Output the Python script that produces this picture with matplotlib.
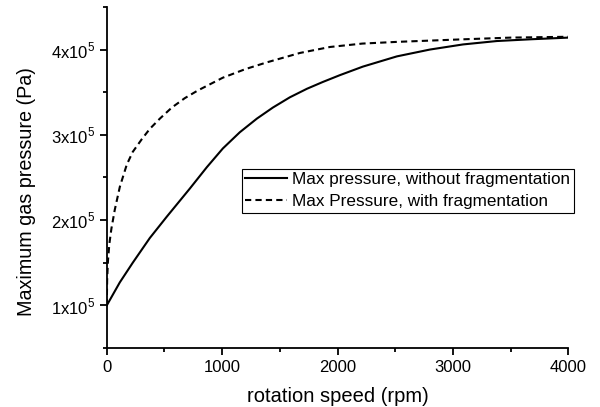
import numpy as np
import matplotlib
matplotlib.use('Agg')
import matplotlib.pyplot as plt
from matplotlib.ticker import MultipleLocator, FuncFormatter

plt.rcParams['font.family'] = ['Liberation Sans', 'DejaVu Sans']
plt.rcParams['mathtext.fontset'] = 'custom'
plt.rcParams['mathtext.rm'] = 'Liberation Sans'

# (rpm, 1e5 Pa)
rpm_nofrag = [0, 113, 225, 373, 520, 720, 867, 1006, 1153, 1301, 1440, 1587, 1735, 1873,
              2021, 2220, 2515, 2801, 3088, 3382, 3669, 4000]
p_nofrag = [1.0, 1.27, 1.50, 1.79, 2.04, 2.37, 2.62, 2.84, 3.03, 3.19, 3.32, 3.44, 3.54, 3.62,
            3.70, 3.80, 3.92, 4.00, 4.06, 4.10, 4.12, 4.14]

rpm_frag = [0, 3, 10, 22, 40, 69, 113, 173, 225, 304, 373, 460, 564, 676, 789, 1006, 1200,
            1388, 1674, 1934, 2215, 2515, 3088, 3500, 4000]
p_frag = [1.0, 1.30, 1.52, 1.72, 1.90, 2.12, 2.39, 2.65, 2.80, 2.95, 3.07, 3.19, 3.32, 3.43,
          3.52, 3.67, 3.77, 3.85, 3.96, 4.03, 4.07, 4.09, 4.12, 4.14, 4.15]

p_nofrag = np.array(p_nofrag) * 1e5
p_frag = np.array(p_frag) * 1e5

fig = plt.figure(figsize=(6.0, 4.07), dpi=100)
ax = fig.add_axes([0.178, 0.145, 0.769, 0.838])

ax.plot(rpm_nofrag, p_nofrag, color='black', lw=1.5, label='Max pressure, without fragmentation')
ax.plot(rpm_frag, p_frag, color='black', lw=1.5, dashes=(3, 2), label='Max Pressure, with fragmentation')

ax.set_xlim(0, 4000)
ax.set_ylim(0.5e5, 4.5e5)
ax.xaxis.set_major_locator(MultipleLocator(1000))
ax.xaxis.set_minor_locator(MultipleLocator(500))
ax.yaxis.set_major_locator(MultipleLocator(1e5))
ax.yaxis.set_minor_locator(MultipleLocator(0.5e5))

def sci(v, pos):
    return r'%dx10$^{5}$' % round(v / 1e5)

ax.yaxis.set_major_formatter(FuncFormatter(sci))

for side in ['top', 'right']:
    ax.spines[side].set_visible(False)
for side in ['left', 'bottom']:
    ax.spines[side].set_linewidth(1.3)

ax.tick_params(which='major', direction='out', length=5, width=1.3, labelsize=12)
ax.tick_params(which='minor', direction='out', length=3, width=1.3)

ax.set_xlabel('rotation speed (rpm)', fontsize=14.5, labelpad=9)
ax.set_ylabel('Maximum gas pressure (Pa)', fontsize=14.2)
ax.yaxis.set_label_coords(-0.153, 0.46)

leg = ax.legend(loc='upper left', bbox_to_anchor=(0.293, 0.525), borderaxespad=0,
                fontsize=12.3, fancybox=False, framealpha=1, edgecolor='black',
                handlelength=2.45, handletextpad=0.3, borderpad=0.2, labelspacing=0.4)
leg.get_frame().set_linewidth(0.8)

fig.savefig('out.png', dpi=100)
